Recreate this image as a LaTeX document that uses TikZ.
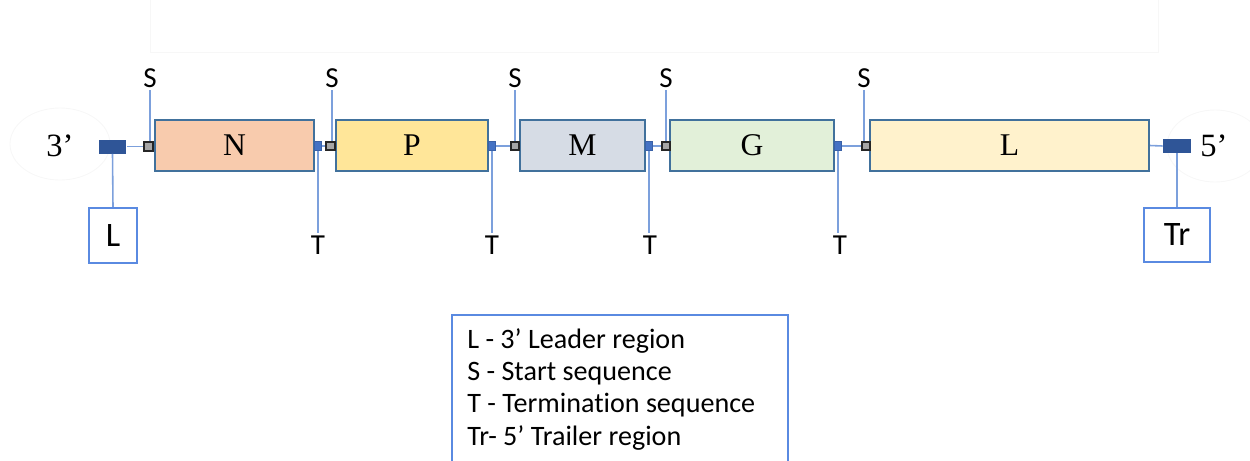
\documentclass[tikz,border=0pt]{standalone}
\usepackage{fontspec}
\setmainfont{Liberation Serif}
\newfontfamily\calibri[Ligatures=NoCommon]{Carlito}
\definecolor{geneedge}{RGB}{65,113,156}
\definecolor{wireblue}{RGB}{124,160,220}
\definecolor{termblue}{RGB}{68,114,196}
\definecolor{darkblue}{RGB}{47,85,151}
\definecolor{boxblue}{RGB}{90,138,225}
\definecolor{fillN}{RGB}{248,203,173}
\definecolor{fillP}{RGB}{255,230,153}
\definecolor{fillM}{RGB}{214,220,229}
\definecolor{fillG}{RGB}{226,240,217}
\definecolor{fillL}{RGB}{255,242,204}
\begin{document}
\begin{tikzpicture}[x=0.02cm,y=-0.02cm,
  gene/.style={draw=geneedge, line width=1.2pt, minimum height=1.02cm, inner sep=0pt,
    font=\fontsize{18}{21}\selectfont},
  startsq/.style={draw=black!85, fill=black!35, line width=0.9pt, minimum size=0.17cm, inner sep=0pt},
  termsq/.style={fill=termblue, draw=termblue!85!black, line width=0.3pt,
    minimum width=0.15cm, minimum height=0.19cm, inner sep=0pt},
  endblk/.style={fill=darkblue, minimum width=0.56cm, minimum height=0.28cm, inner sep=0pt},
  tagbox/.style={draw=boxblue, line width=1.2pt, inner sep=0pt, fill=white,
    font=\calibri\fontsize{19.5}{23}\selectfont},
  wire/.style={draw=wireblue, line width=0.9pt},
  lab/.style={font=\calibri\fontsize{16.5}{19}\selectfont, inner sep=1.5pt},
  endtxt/.style={font=\fontsize{18.5}{21}\selectfont, inner sep=0pt},
  halo/.style={draw=black!3, line width=0.5pt}
]
\useasboundingbox (0,0) rectangle (1250,460);

% faint backdrop frame and end halos
\draw[halo] (150,-5) rectangle (1158,52);
\draw[halo] (60,144) ellipse [x radius=50, y radius=36];
\draw[halo] (1215,146) ellipse [x radius=48, y radius=36];

% gene boxes
\node[gene, fill=fillN, minimum width=3.18cm] (N) at (234.5,145.5) {N};
\node[gene, fill=fillP, minimum width=3.04cm] (P) at (412,145.5) {P};
\node[gene, fill=fillM, minimum width=2.50cm] (M) at (582.5,145.5) {M};
\node[gene, fill=fillG, minimum width=3.28cm] (G) at (752,145.5) {G};
\node[gene, fill=fillL, minimum width=5.58cm] (Lg) at (1009.5,145.5) {L};

% ends
\node[endtxt] (e3) at (60,146) {3’};
\node[endtxt] (e5) at (1214,146) {5’};
\node[endblk] (d3) at (112.5,146.5) {};
\node[endblk] (d5) at (1177,146) {};
\node[tagbox, minimum width=0.96cm, minimum height=1.1cm] (lead) at (113,235.5) {L};
\node[tagbox, minimum width=1.32cm, minimum height=1.08cm] (trail) at (1177,235) {Tr};

% start and termination signals
\node[startsq] (s1) at (148.5,146.5) {};
\node[startsq] (s2) at (330.5,146) {};
\node[startsq] (s3) at (515,146) {};
\node[startsq] (s4) at (666,146) {};
\node[startsq] (s5) at (866,146) {};
\node[termsq] (t1) at (318,146) {};
\node[termsq] (t2) at (492,146) {};
\node[termsq] (t3) at (649,146) {};
\node[termsq] (t4) at (838,146) {};

% labels
\foreach \i/\x in {1/150,2/332,3/515,4/666,5/864}
  \node[lab] (sl\i) at (\x,78) {S};
\foreach \i/\x in {1/318,2/492,3/650,4/840}
  \node[lab] (tl\i) at (\x,245) {T};

% backbone
\draw[wire] (d3.east) -- (s1.west);
\draw[wire] (t1.east) -- (s2.west);
\draw[wire] (t2.east) -- (s3.west);
\draw[wire] (t3.east) -- (s4.west);
\draw[wire] (t4.east) -- (s5.west);
\draw[wire] (Lg.east) -- (d5.west);
\draw[wire] (d3.south) -- (lead.north);
\draw[wire] (d5.south) -- (trail.north);

% signal leads
\foreach \i in {1,...,5}
  \draw[wire] (sl\i.south) -- (s\i.north -| sl\i.south);
\foreach \i in {1,...,4}
  \draw[wire] (t\i.south) -- (tl\i.north -| t\i.south);

% legend
\draw[draw=boxblue, line width=1.2pt] (452,462) -- (452,315) -- (788,315) -- (788,462);
\node[anchor=north west, inner sep=0pt, align=left,
  font=\calibri\fontsize{16}{18.4}\selectfont] (key) at (467,328)
  {L - 3’ Leader region\\S - Start sequence\\T - Termination sequence\\Tr- 5’ Trailer region};
\end{tikzpicture}
\end{document}
